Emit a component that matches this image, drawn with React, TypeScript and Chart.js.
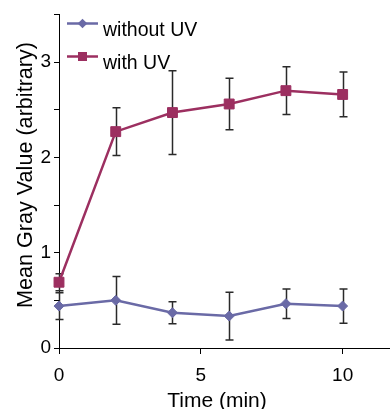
import React, { useEffect, useRef } from "react";
import { Chart, registerables } from "chart.js";

Chart.register(...registerables);

// ---- data ----
const times = [0, 2, 4, 6, 8, 10];
const withoutUV = [0.44, 0.5, 0.37, 0.335, 0.465, 0.44];
const withoutUVErr = [0.14, 0.25, 0.115, 0.25, 0.155, 0.18];
const withUV = [0.69, 2.27, 2.47, 2.56, 2.7, 2.66];
const withUVErr = [0.09, 0.25, 0.44, 0.27, 0.25, 0.235];
const xTicks = [0, 5, 10];
const seriesNames = ["without UV", "with UV"];
const xTitle = "Time (min)";
const yTitle = "Mean Gray Value (arbitrary)";

const FONT = "'Liberation Sans', Arial, Helvetica, sans-serif";
const COLOR_A = "#6A6AA6";
const COLOR_B = "#9C2F60";

const errorBars = {
  id: "errorBars",
  beforeDatasetsDraw(chart: any) {
    const ctx = chart.ctx;
    const xs = chart.scales.x;
    const ys = chart.scales.y;
    ctx.save();
    ctx.strokeStyle = "#2a2a2a";
    ctx.lineWidth = 1.5;
    chart.data.datasets.forEach((ds: any) => {
      const errs: number[] = ds.errors;
      ds.data.forEach((p: any, i: number) => {
        const x = Math.round(xs.getPixelForValue(p.x)) + 0.5;
        const yt = ys.getPixelForValue(p.y + errs[i]);
        const yb = ys.getPixelForValue(p.y - errs[i]);
        ctx.beginPath();
        ctx.moveTo(x, yt);
        ctx.lineTo(x, yb);
        ctx.moveTo(x - 4, yt);
        ctx.lineTo(x + 4, yt);
        ctx.moveTo(x - 4, yb);
        ctx.lineTo(x + 4, yb);
        ctx.stroke();
      });
    });
    ctx.restore();
  },
};

const customLegend = {
  id: "customLegend",
  afterDraw(chart: any) {
    const ctx = chart.ctx;
    ctx.save();
    chart.data.datasets.forEach((ds: any, i: number) => {
      const y = 23.5 + i * 33;
      ctx.strokeStyle = ds.borderColor;
      ctx.lineWidth = 2.5;
      ctx.beginPath();
      ctx.moveTo(67, y);
      ctx.lineTo(98, y);
      ctx.stroke();
      ctx.fillStyle = ds.borderColor;
      ctx.beginPath();
      if (ds.pointStyle === "rectRot") {
        const r = 4.8;
        ctx.moveTo(82.5 - r, y);
        ctx.lineTo(82.5, y - r);
        ctx.lineTo(82.5 + r, y);
        ctx.lineTo(82.5, y + r);
        ctx.closePath();
      } else {
        ctx.rect(82.5 - 4.5, y - 4.5, 9, 9);
      }
      ctx.fill();
      ctx.fillStyle = "#000";
      ctx.font = `19.5px ${FONT}`;
      ctx.textBaseline = "alphabetic";
      ctx.textAlign = "left";
      ctx.fillText(ds.label, 103, y + 12.5);
    });
    ctx.restore();
  },
};

const axisTitles = {
  id: "axisTitles",
  afterDraw(chart: any) {
    const ctx = chart.ctx;
    ctx.save();
    ctx.fillStyle = "#000";
    ctx.font = `21px ${FONT}`;
    ctx.textAlign = "center";
    ctx.textBaseline = "alphabetic";
    ctx.fillText(xTitle, 217, 406.5);
    ctx.font = `21.6px ${FONT}`;
    ctx.translate(31.5, 175);
    ctx.rotate(-Math.PI / 2);
    ctx.fillText(yTitle, 0, 0);
    ctx.restore();
  },
};

export default function App() {
  const ref = useRef<HTMLCanvasElement>(null);
  useEffect(() => {
    if (!ref.current) return;
    Chart.defaults.font.family = FONT;
    const chart = new Chart(ref.current, {
      type: "line",
      data: {
        datasets: [
          {
            label: seriesNames[0],
            data: times.map((t, i) => ({ x: t, y: withoutUV[i] })),
            errors: withoutUVErr,
            borderColor: COLOR_A,
            backgroundColor: COLOR_A,
            pointStyle: "rectRot",
            pointRadius: 5,
            pointBorderWidth: 1,
            pointBorderColor: COLOR_A,
            pointBackgroundColor: COLOR_A,
            borderWidth: 2.5,
            clip: false,
          } as any,
          {
            label: seriesNames[1],
            data: times.map((t, i) => ({ x: t, y: withUV[i] })),
            errors: withUVErr,
            borderColor: COLOR_B,
            backgroundColor: COLOR_B,
            pointStyle: "rect",
            pointRadius: 7,
            pointBorderWidth: 1,
            pointBorderColor: COLOR_B,
            pointBackgroundColor: COLOR_B,
            borderWidth: 2.5,
            clip: false,
          } as any,
        ],
      },
      options: {
        animation: false,
        responsive: false,
        layout: { autoPadding: false, padding: { top: 13, left: 0, right: 0, bottom: 0 } },
        plugins: { legend: { display: false }, tooltip: { enabled: false } },
        scales: {
          x: {
            type: "linear",
            min: 0,
            max: 11.67,
            afterBuildTicks: (s: any) => {
              s.ticks = xTicks.map((v) => ({ value: v }));
            },
            afterFit: (s: any) => {
              s.height = 61;
              s.paddingRight = 0;
              s.paddingLeft = 0;
            },
            grid: { drawOnChartArea: false, drawTicks: true, tickLength: 6, color: "#000", lineWidth: 1 },
            border: { display: true, color: "#000", width: 1 },
            ticks: { color: "#000", font: { size: 19 }, padding: 10, maxRotation: 0, autoSkip: false },
          },
          y: {
            type: "linear",
            min: 0,
            max: 3.5,
            afterFit: (s: any) => {
              s.width = 59;
            },
            grid: { drawOnChartArea: false, drawTicks: true, tickLength: 5, color: "#000", lineWidth: 1 },
            border: { display: true, color: "#000", width: 1 },
            ticks: {
              stepSize: 0.5,
              color: "#000",
              font: { size: 19 },
              padding: 3,
              autoSkip: false,
              callback: (v: any) => (Number.isInteger(v) ? String(v) : ""),
            },
          },
        },
      } as any,
      plugins: [errorBars, customLegend, axisTitles],
    });
    return () => chart.destroy();
  }, []);
  return (
    <div style={{ position: "absolute", left: 0, top: 0, width: 390, height: 409, background: "#fff" }}>
      <canvas ref={ref} width={390} height={409} style={{ display: "block" }} />
    </div>
  );
}
